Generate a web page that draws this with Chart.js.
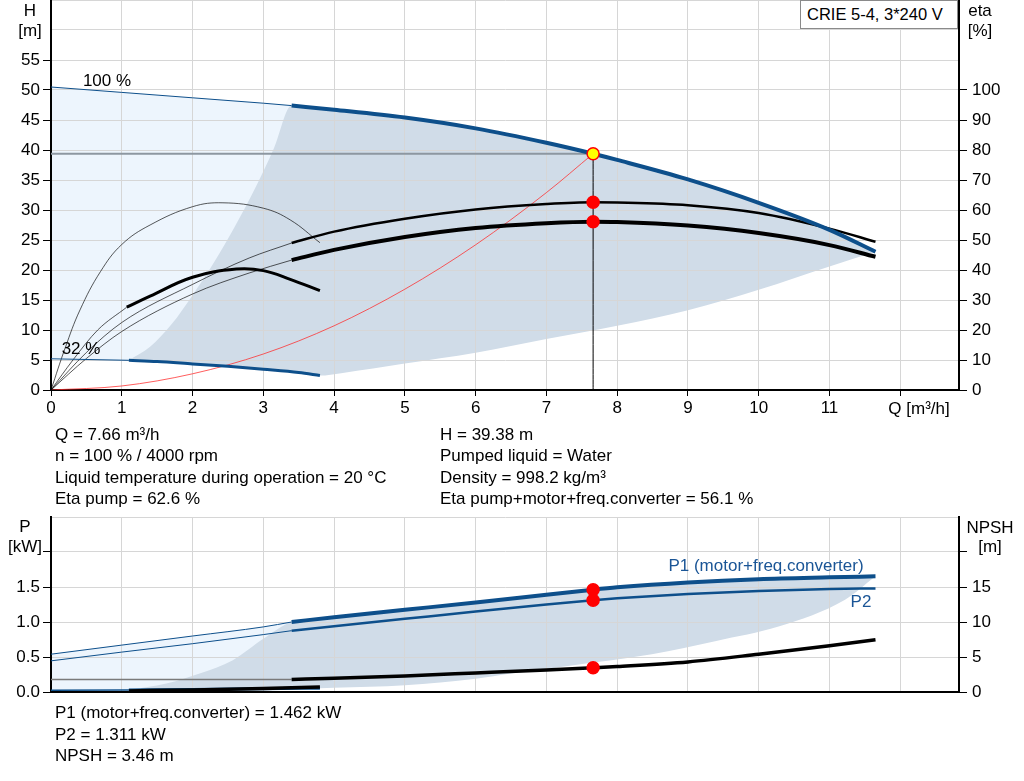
<!DOCTYPE html>
<html>
<head>
<meta charset="utf-8">
<title>CRIE 5-4 pump curves</title>
<script src="https://cdn.jsdelivr.net/npm/chart.js@4.4.1/dist/chart.umd.min.js"></script>
<style>
  body { margin: 0; background: #fff; font-family: 'Liberation Sans', Arial, sans-serif; color: #000; }
  #page { position: relative; width: 1024px; height: 781px; overflow: hidden; }
  .box { position: absolute; left: 0; width: 1024px; }
  .lbl { position: absolute; transform: translate(-50%, -50%); font-size: 17px; line-height: 1; white-space: nowrap; }
  .blue { color: #1a5596; }
  .txt { position: absolute; font-size: 17px; line-height: 21.5px; white-space: nowrap; }
  #legend { position: absolute; left: 800px; top: 0; width: 150px; height: 27px; padding-left: 6px;
            border: 1px solid #8a8a8a; background: #fff; font-size: 16.5px; line-height: 27px; }
</style>
</head>
<body>
<div id="page">
  <div class="box" style="top:0;height:425px"><canvas id="top"></canvas></div>
  <div class="box" style="top:507px;height:200px"><canvas id="bottom"></canvas></div>

  <div id="legend">CRIE 5-4, 3*240 V</div>
  <div class="lbl" style="left:30px;top:10px">H</div>
  <div class="lbl" style="left:30px;top:30px">[m]</div>
  <div class="lbl" style="left:980px;top:10px">eta</div>
  <div class="lbl" style="left:980px;top:30px">[%]</div>
  <div class="lbl" style="left:919px;top:408px">Q [m³/h]</div>
  <div class="lbl" style="left:107px;top:80px">100 %</div>
  <div class="lbl" style="left:81px;top:348px">32 %</div>

  <div class="txt" style="left:55px;top:423.5px">Q = 7.66 m³/h<br>n = 100 % / 4000 rpm<br>Liquid temperature during operation = 20 °C<br>Eta pump = 62.6 %</div>
  <div class="txt" style="left:440px;top:423.5px">H = 39.38 m<br>Pumped liquid = Water<br>Density = 998.2 kg/m³<br>Eta pump+motor+freq.converter = 56.1 %</div>

  <div class="lbl" style="left:25px;top:526px">P</div>
  <div class="lbl" style="left:25px;top:546px">[kW]</div>
  <div class="lbl" style="left:990px;top:527px">NPSH</div>
  <div class="lbl" style="left:990px;top:546px">[m]</div>
  <div class="lbl blue" style="left:766px;top:565px">P1 (motor+freq.converter)</div>
  <div class="lbl blue" style="left:861px;top:601px">P2</div>

  <div class="txt" style="left:55px;top:702px">P1 (motor+freq.converter) = 1.462 kW<br>P2 = 1.311 kW<br>NPSH = 3.46 m</div>
</div>

<script>
// ticks
const qTicks = [0, 1, 2, 3, 4, 5, 6, 7, 8, 9, 10, 11, 12];
const hTicks = [0, 5, 10, 15, 20, 25, 30, 35, 40, 45, 50, 55, 60, 65];
const etaTicks = [0, 10, 20, 30, 40, 50, 60, 70, 80, 90, 100];
const pTicks = [0, 0.5, 1, 1.5, 2, 2.5];
const npshTicks = [0, 5, 10, 15, 20];

// duty point
const opQ = 7.66, opH = 39.38, opEtaPump = 62.6, opEtaTot = 56.1;
const opP1 = 1.462, opP2 = 1.311, opNpsh = 3.46;

// H at 100 % speed (thin part outside the allowed range)
const qH100Thin = [0, 1, 2, 3, 3.4];
const hH100Thin = [50.5, 49.6, 48.7, 47.8, 47.4];
const qH100 = [3.4, 4, 5, 6, 7, 7.66, 8, 9, 10, 11, 11.65];
const hH100 = [47.4, 46.7, 45.4, 43.6, 41.2, 39.38, 38.35, 35.1, 31.2, 26.7, 23.05];

// H at 32 % speed
const qH32Thin = [0, 1.1];
const hH32Thin = [5.2, 4.95];
const qH32 = [1.1, 1.5, 2, 2.5, 3, 3.5, 3.8];
const hH32 = [4.95, 4.75, 4.35, 3.95, 3.45, 2.9, 2.4];

// edges of the operating area
const qAreaLeft = [1.1, 1.4, 1.7, 2.0, 2.3, 2.6, 2.9, 3.15, 3.4];
const hAreaLeft = [4.95, 7.2, 10.9, 15.8, 21.2, 27.3, 34.0, 40.3, 47.4];
const qAreaLow = [3.8, 4.1, 5, 6, 7, 8, 9, 10, 11, 11.65];
const hAreaLow = [2.4, 2.8, 4.4, 6.2, 8.5, 10.7, 13.3, 16.7, 20.6, 23.05];

// system curve
const qSys = [0, 1, 2, 3, 4, 5, 6, 7, 7.66];
const hSys = [0, 0.67, 2.7, 6.0, 10.7, 16.8, 24.2, 32.9, 39.38];

// efficiencies [%] at 100 %
const qEtaThin = [0, 0.5, 1, 2, 2.8, 3.4];
const etaPumpThin = [0, 12.5, 22.5, 35.2, 44, 49];
const etaTotThin = [0, 10.5, 19.5, 32, 39, 43.3];
const qEta = [3.4, 4, 5, 6, 7, 7.66, 8, 9, 10, 11, 11.65];
const etaPump = [49, 52.8, 57.1, 60.2, 62.0, 62.6, 62.5, 61.6, 59.0, 53.8, 49.4];
const etaTot = [43.3, 46.7, 51.0, 54.0, 55.6, 56.1, 56.0, 54.8, 52.3, 48.3, 44.4];

// efficiencies [%] at 32 %
const qEtaPump32 = [0, 0.2, 0.41, 0.7, 1.0, 1.4, 2.0, 2.43, 3.0, 3.38, 3.8];
const etaPump32 = [0, 14, 26.7, 39.5, 48.5, 55, 61.1, 62.4, 60.6, 56.7, 49.1];
const qEtaTot32Thin = [0, 0.31, 0.66, 1.07];
const etaTot32Thin = [0, 10, 20, 27.6];
const qEtaTot32 = [1.07, 1.4, 2, 2.62, 3, 3.38, 3.8];
const etaTot32 = [27.6, 31.3, 37.6, 40.3, 39.8, 36.9, 33.1];

// power [kW] and NPSH [m] at 100 %
const qPThin = [0, 1, 2, 3, 3.4];
const p1Thin = [0.54, 0.67, 0.80, 0.93, 1.0];
const p2Thin = [0.445, 0.57, 0.69, 0.82, 0.876];
const qP = [3.4, 4, 5, 6, 7, 7.66, 8, 9, 10, 11, 11.65];
const p1 = [1.0, 1.069, 1.174, 1.279, 1.389, 1.462, 1.495, 1.565, 1.612, 1.638, 1.652];
const p2 = [0.876, 0.94, 1.045, 1.15, 1.25, 1.311, 1.338, 1.40, 1.443, 1.47, 1.48];
const qNpshThin = [0, 3.4];
const npshThin = [1.78, 1.8];
const npsh = [1.8, 1.97, 2.3, 2.72, 3.15, 3.46, 3.64, 4.3, 5.4, 6.6, 7.45];

// power and NPSH at 32 %
const qP32Thin = [0, 1.1];
const p132Thin = [0.024, 0.028];
const qP32 = [1.1, 2, 3, 3.8];
const p132 = [0.028, 0.036, 0.046, 0.055];
const npsh32 = [0.15, 0.3, 0.5, 0.7];

// edges of the power area
const qPAreaLeft = [1.1, 1.63, 2.1, 2.57, 3.0, 3.4];
const pAreaLeft = [0.028, 0.12, 0.264, 0.455, 0.76, 1.0];
const qPAreaLow = [3.8, 4, 5, 6, 6.5, 7, 7.66, 8.49, 9.4, 10.28, 11.22, 11.65];
const pAreaLow = [0.055, 0.06, 0.095, 0.19, 0.264, 0.33, 0.42, 0.54, 0.73, 0.934, 1.318, 1.652];

Chart.defaults.font.family = "'Liberation Sans', Arial, sans-serif";
Chart.defaults.font.size = 17;
Chart.defaults.color = '#000';

const BLUE = '#0d4f8b';
const THIN = 'rgba(0,0,0,0.65)';
const GRID = '#d6d6d6';
const AREA = '#d0dce8';
const LIGHT = '#edf5fd';

function pts(qs, vs) { return qs.map((q, i) => ({ x: q, y: vs[i] })); }
function add(list, d) { list.push(d); return list.length - 1; }

// tension given -> cardinal spline (smoother for the humped curves), else monotone
function line(data, color, width, axis, order, tension) {
  const d = { data, yAxisID: axis, showLine: true, borderColor: color, borderWidth: width,
    pointRadius: 0, fill: false, order };
  if (tension) d.tension = tension; else d.cubicInterpolationMode = 'monotone';
  return d;
}
// invisible boundary, optionally filled down to another dataset
// (fill targets must not be dataset 0, the filler treats index 0 as "no fill")
function edge(data, axis, order, target, color) {
  return { data, yAxisID: axis, showLine: true, borderWidth: 0, pointRadius: 0,
    cubicInterpolationMode: 'monotone', fill: target === undefined ? false : target,
    backgroundColor: color || 'rgba(0,0,0,0)', order };
}
function dot(x, y, axis, color, order) {
  return { data: [{ x, y }], yAxisID: axis, showLine: false, pointRadius: 6,
    pointBackgroundColor: color, pointBorderColor: '#ff0000', pointBorderWidth: 1.5, order };
}

function xScale(labels, height) {
  return {
    type: 'linear', position: 'bottom', min: 0, max: 12.83,
    afterBuildTicks: s => { s.ticks = qTicks.map(v => ({ value: v })); },
    afterFit: s => { s.height = height; s.paddingLeft = 0; s.paddingRight = 0; },
    border: { color: '#000', width: 2 },
    grid: { color: GRID, drawTicks: labels, tickLength: 6, tickColor: '#000' },
    ticks: { display: labels, padding: 2, maxRotation: 0, autoSkip: false,
      callback: v => (v <= 11 ? String(v) : '') }
  };
}
function yScale(pos, max, ticks, labelMax, markMax, fmt, width, onArea) {
  return {
    type: 'linear', position: pos, min: 0, max,
    afterBuildTicks: s => { s.ticks = ticks.map(v => ({ value: v })); },
    afterFit: s => { s.width = width; s.paddingTop = 0; s.paddingBottom = 0; },
    border: { color: '#000', width: 2 },
    grid: { drawOnChartArea: onArea, color: GRID, tickLength: 8,
      tickColor: c => (c.tick && c.tick.value <= markMax ? '#000' : 'rgba(0,0,0,0)') },
    ticks: { padding: pos === 'left' ? 3 : 5, autoSkip: false,
      callback: v => (v <= labelMax ? fmt(v) : '') }
  };
}
function options(padTop, scales) {
  return {
    responsive: true, maintainAspectRatio: false, animation: false, events: [],
    layout: { padding: { top: padTop, left: 0, right: 0, bottom: 0 }, autoPadding: false },
    plugins: { legend: { display: false }, tooltip: { enabled: false }, filler: { drawTime: 'beforeDraw' } },
    scales
  };
}

// ---- H / eta chart
const topSets = [];
topSets.push(line(pts([0, opQ], [opH, opH]), '#8d97a1', 2, 'y', 20));
const lightLow = add(topSets, edge(pts([...qH32Thin, ...qH32.slice(1)], [...hH32Thin, ...hH32.slice(1)]), 'y', 31));
add(topSets, edge(pts(qH100Thin, hH100Thin), 'y', 30, lightLow, LIGHT));
const darkLow = add(topSets, edge(pts([...qH32, ...qAreaLow.slice(1)], [...hH32, ...hAreaLow.slice(1)]), 'y', 32));
add(topSets, edge(pts([...qAreaLeft, ...qH100.slice(1)], [...hAreaLeft, ...hH100.slice(1)]), 'y', 29, darkLow, AREA));

topSets.push(line(pts(qSys, hSys), 'rgba(255,40,40,0.75)', 1, 'y', 19));
topSets.push(line(pts(qEtaPump32, etaPump32), THIN, 1, 'eta', 16, 0.4));
topSets.push(line(pts(qEtaTot32Thin, etaTot32Thin), THIN, 1, 'eta', 16));
topSets.push(line(pts(qEtaThin, etaPumpThin), THIN, 1, 'eta', 16));
topSets.push(line(pts(qEtaThin, etaTotThin), THIN, 1, 'eta', 16));
topSets.push(line(pts(qEtaTot32, etaTot32), '#000', 3, 'eta', 15, 0.4));
topSets.push(line(pts(qEta, etaPump), '#000', 2.5, 'eta', 15));
topSets.push(line(pts(qEta, etaTot), '#000', 4, 'eta', 15));
topSets.push(line(pts(qH100Thin, hH100Thin), BLUE, 1, 'y', 13));
topSets.push(line(pts(qH32Thin, hH32Thin), BLUE, 1, 'y', 13));
topSets.push(line(pts(qH100, hH100), BLUE, 4, 'y', 12));
topSets.push(line(pts(qH32, hH32), BLUE, 3, 'y', 12));
topSets.push(line(pts([opQ, opQ], [opH, 0]), '#000', 1, 'y', 10));
topSets.push(dot(opQ, opEtaPump, 'eta', '#ff0000', 2));
topSets.push(dot(opQ, opEtaTot, 'eta', '#ff0000', 2));
topSets.push(dot(opQ, opH, 'y', '#ffff00', 1));

new Chart(document.getElementById('top'), {
  type: 'scatter',
  data: { datasets: topSets },
  options: options(0, {
    x: xScale(true, 35),
    y: yScale('left', 65, hTicks, 55, 55, v => String(v), 51, true),
    eta: yScale('right', 130, etaTicks, 100, 100, v => String(v), 65, false)
  })
});

// ---- P / NPSH chart
const botSets = [];
botSets.push(line(pts(qNpshThin, npshThin), '#7a7a7a', 1.5, 'npsh', 20));
const pLightLow = add(botSets, edge(pts([...qP32Thin, ...qP32.slice(1)], [...p132Thin, ...p132.slice(1)]), 'p', 31));
add(botSets, edge(pts(qPThin, p1Thin), 'p', 30, pLightLow, LIGHT));
const pDarkLow = add(botSets, edge(pts([...qP32, ...qPAreaLow.slice(1)], [...p132, ...pAreaLow.slice(1)]), 'p', 32));
add(botSets, edge(pts([...qPAreaLeft, ...qP.slice(1)], [...pAreaLeft, ...p1.slice(1)]), 'p', 29, pDarkLow, AREA));

botSets.push(line(pts(qPThin, p1Thin), BLUE, 1, 'p', 16));
botSets.push(line(pts(qPThin, p2Thin), BLUE, 1, 'p', 16));
botSets.push(line(pts(qP32Thin, p132Thin), BLUE, 1.5, 'p', 16));
botSets.push(line(pts(qP32, p132), BLUE, 3, 'p', 15));
botSets.push(line(pts(qP32, npsh32), '#000', 3.5, 'npsh', 14));
botSets.push(line(pts(qP, p1), BLUE, 4, 'p', 12));
botSets.push(line(pts(qP, p2), BLUE, 2.5, 'p', 12));
botSets.push(line(pts(qP, npsh), '#000', 3.5, 'npsh', 12));
botSets.push(dot(opQ, opP1, 'p', '#ff0000', 2));
botSets.push(dot(opQ, opP2, 'p', '#ff0000', 2));
botSets.push(dot(opQ, opNpsh, 'npsh', '#ff0000', 2));

new Chart(document.getElementById('bottom'), {
  type: 'scatter',
  data: { datasets: botSets },
  options: options(10, {
    x: xScale(false, 15),
    p: yScale('left', 2.5, pTicks, 1.5, 2, v => v.toFixed(1), 51, true),
    npsh: yScale('right', 25, npshTicks, 15, 20, v => String(v), 65, false)
  })
});
</script>
</body>
</html>
